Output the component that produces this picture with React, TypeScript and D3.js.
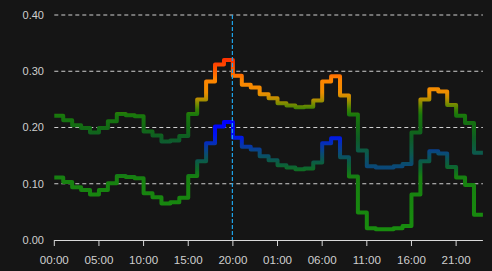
import React from "react";
import * as d3 from "d3";

// hourly values over two days (hour index 0..47)
const lowerSeries = [
  0.111, 0.103, 0.094, 0.089, 0.081, 0.089, 0.101, 0.114, 0.112, 0.110,
  0.083, 0.076, 0.065, 0.067, 0.075, 0.114, 0.140, 0.172, 0.202, 0.210,
  0.182, 0.166, 0.161, 0.149, 0.142, 0.133, 0.129, 0.126, 0.127, 0.138,
  0.172, 0.181, 0.147, 0.113, 0.049, 0.021, 0.019, 0.019, 0.021, 0.025,
  0.081, 0.140, 0.158, 0.154, 0.130, 0.111, 0.098, 0.045,
];
const upperSeries = [
  0.221, 0.213, 0.204, 0.199, 0.191, 0.199, 0.211, 0.224, 0.222, 0.220,
  0.193, 0.186, 0.175, 0.177, 0.185, 0.224, 0.250, 0.282, 0.312, 0.320,
  0.292, 0.276, 0.271, 0.259, 0.252, 0.243, 0.239, 0.236, 0.237, 0.248,
  0.282, 0.291, 0.257, 0.223, 0.159, 0.131, 0.129, 0.129, 0.131, 0.135,
  0.191, 0.250, 0.268, 0.264, 0.240, 0.221, 0.208, 0.155,
];
const xTickHours = [0, 5, 10, 15, 20, 25, 30, 35, 40, 45];
const xTickLabels = ["00:00", "05:00", "10:00", "15:00", "20:00", "01:00", "06:00", "11:00", "16:00", "21:00"];
const yTicks = [0, 0.1, 0.2, 0.3, 0.4];
const markerHour = 20;

// colour stops (value -> colour) for each line
const upperStops: [number, string][] = [
  [0.13, "#0a4878"], [0.155, "#0c5a4a"], [0.18, "#0e5c26"], [0.2, "#126a14"],
  [0.222, "#18780c"], [0.232, "#3a8004"], [0.242, "#7a8c00"], [0.252, "#c08e00"],
  [0.262, "#ee8e00"], [0.285, "#ff8400"], [0.3, "#ff6000"], [0.32, "#ff3300"],
];
const lowerStops: [number, string][] = [
  [0.02, "#188c0e"], [0.112, "#178010"], [0.126, "#0e6a28"], [0.14, "#0b5a48"],
  [0.155, "#0a4a78"], [0.17, "#0632b0"], [0.185, "#0015f0"], [0.21, "#0000ff"],
];

const W = 492, H = 271;
const left = 54.3, right = 482.9, top = 15, bottom = 240;

export default function App() {
  const x = d3.scaleLinear().domain([0, 48]).range([left, right]);
  const y = d3.scaleLinear().domain([0, 0.4]).range([bottom, top]);
  const line = d3
    .line<number>()
    .x((_, i) => x(i))
    .y((d) => y(d))
    .curve(d3.curveStepAfter);
  const extend = (arr: number[]) => [...arr, arr[arr.length - 1]];

  const grad = (id: string, stops: [number, string][]) => (
    <linearGradient id={id} gradientUnits="userSpaceOnUse" x1={0} x2={0} y1={y(0)} y2={y(0.4)}>
      {stops.map(([v, c], i) => (
        <stop key={i} offset={(v / 0.4).toFixed(4)} stopColor={c} />
      ))}
    </linearGradient>
  );

  return (
    <div style={{ position: "fixed", left: 0, top: 0, width: W, height: H }}>
      <svg width={W} height={H} style={{ display: "block", background: "#151515" }}>
        <defs>
          {grad("gUpper", upperStops)}
          {grad("gLower", lowerStops)}
        </defs>
        <rect x={0} y={0} width={W} height={H} fill="#151515" />
        {yTicks.map((t) => (
          <g key={t}>
            {t > 0 && (
              <line x1={left} x2={right} y1={y(t)} y2={y(t)} stroke="#d0d0d0" strokeWidth={1} strokeDasharray="4,3" />
            )}
            <text
              x={44}
              y={y(t)}
              dy="0.35em"
              textAnchor="end"
              fill="#cfcfcf"
              fontSize={11}
              fontFamily="'Liberation Sans', Arial, sans-serif"
            >
              {t.toFixed(2)}
            </text>
          </g>
        ))}
        <line x1={left} x2={right} y1={bottom + 0.5} y2={bottom + 0.5} stroke="#d8d8d8" strokeWidth={1.2} />
        {xTickHours.map((h, i) => (
          <g key={h}>
            <line x1={x(h)} x2={x(h)} y1={bottom} y2={bottom + 6} stroke="#d8d8d8" strokeWidth={1} />
            <text
              x={x(h)}
              y={264}
              textAnchor="middle"
              fill="#cfcfcf"
              fontSize={11.6}
              fontFamily="'Liberation Sans', Arial, sans-serif"
            >
              {xTickLabels[i]}
            </text>
          </g>
        ))}
        <path d={line(extend(upperSeries)) || ""} fill="none" stroke="url(#gUpper)" strokeWidth={4} strokeLinejoin="round" />
        <path d={line(extend(lowerSeries)) || ""} fill="none" stroke="url(#gLower)" strokeWidth={4} strokeLinejoin="round" />
        <line
          x1={x(markerHour) - 0.5}
          x2={x(markerHour) - 0.5}
          y1={top}
          y2={bottom}
          stroke="#1ea4ea"
          strokeWidth={1.2}
          strokeDasharray="4,2"
        />
      </svg>
    </div>
  );
}
